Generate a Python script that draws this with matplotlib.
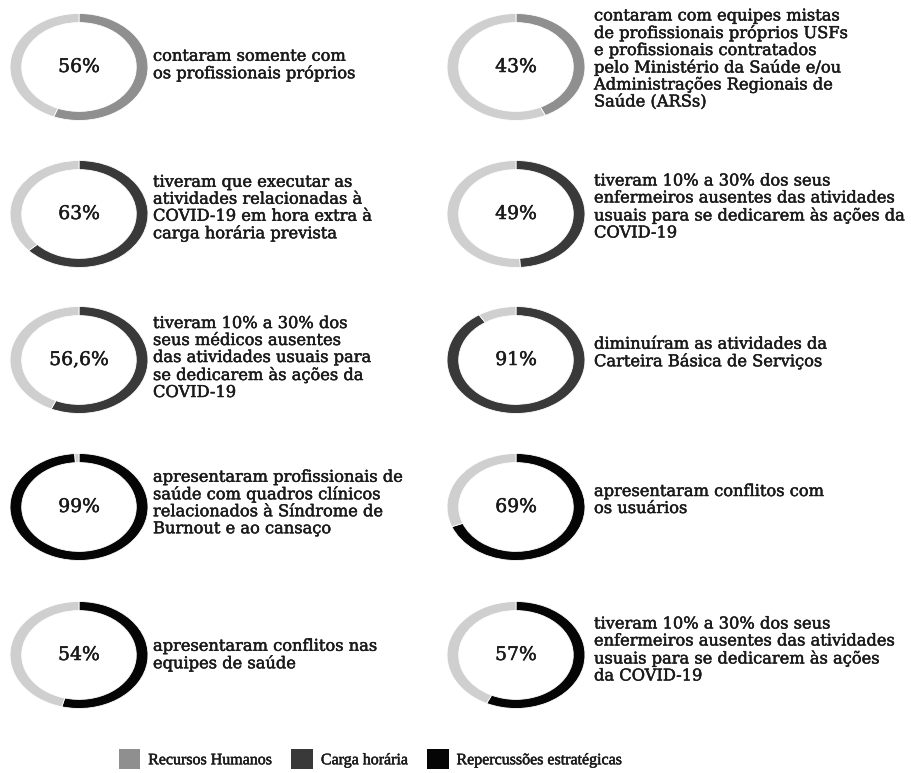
import matplotlib.pyplot as plt
import matplotlib.patheffects as pe
from matplotlib.patches import Patch

# data
percent = [56, 43, 63, 49, 56.6, 91, 99, 69, 54, 57]
percent_labels = ['56%', '43%', '63%', '49%', '56,6%', '91%', '99%', '69%', '54%', '57%']
groups = ['Recursos Humanos', 'Recursos Humanos',
          'Carga horária', 'Carga horária',
          'Carga horária', 'Carga horária',
          'Repercussões estratégicas', 'Repercussões estratégicas',
          'Repercussões estratégicas', 'Repercussões estratégicas']
descriptions = [
    'contaram somente com\nos profissionais próprios',
    'contaram com equipes mistas\nde profissionais próprios USFs\ne profissionais contratados\n'
    'pelo Ministério da Saúde e/ou\nAdministrações Regionais de\nSaúde (ARSs)',
    'tiveram que executar as\natividades relacionadas à\nCOVID-19 em hora extra à\ncarga horária prevista',
    'tiveram 10% a 30% dos seus\nenfermeiros ausentes das atividades\nusuais para se dedicarem às ações da\nCOVID-19',
    'tiveram 10% a 30% dos\nseus médicos ausentes\ndas atividades usuais para\nse dedicarem às ações da\nCOVID-19',
    'diminuíram as atividades da\nCarteira Básica de Serviços',
    'apresentaram profissionais de\nsaúde com quadros clínicos\nrelacionados à Síndrome de\nBurnout e ao cansaço',
    'apresentaram conflitos com\nos usuários',
    'apresentaram conflitos nas\nequipes de saúde',
    'tiveram 10% a 30% dos seus\nenfermeiros ausentes das atividades\nusuais para se dedicarem às ações\nda COVID-19',
]
legend_order = ['Recursos Humanos', 'Carga horária', 'Repercussões estratégicas']

# layout (pixels, origin top-left)
W, H = 911, 773
col_x = [79, 516]
text_x = [153, 594]
row_y = [67, 214, 360, 507, 655]
text_dy = [[-2, -8], [-6, -7], [-2, -7], [-4, -7], [0, -5]]
rx, ry = 69, 53.5

colors = {'Recursos Humanos': '#8f8f8f',
          'Carga horária': '#393939',
          'Repercussões estratégicas': '#050505'}
rest_color = '#cfcfcf'
text_color = '#1a1a1a'
bold_fx = [pe.withStroke(linewidth=0.35, foreground=text_color)]


def fx(x):
    return x / W


def fy(y):
    return 1 - y / H


fig = plt.figure(figsize=(9.11, 7.73), dpi=100)
fig.patch.set_facecolor('white')

for i, p in enumerate(percent):
    r, c = i // 2, i % 2
    cx, cy = col_x[c], row_y[r]
    ax = fig.add_axes([fx(cx - rx), fy(cy + ry), 2 * rx / W, 2 * ry / H])
    ax.pie([p, 100 - p], colors=[colors[groups[i]], rest_color],
           startangle=90, counterclock=False, radius=1,
           wedgeprops=dict(width=0.17, edgecolor='white', linewidth=0.6))
    ax.set_aspect('auto')
    ax.set_xlim(-1.0, 1.0)
    ax.set_ylim(-1.0, 1.0)
    ax.axis('off')
    ax.text(0, 0, percent_labels[i], ha='center', va='center',
            fontsize=13.5, family='DejaVu Serif', color=text_color,
            path_effects=bold_fx)
    fig.text(fx(text_x[c]), fy(cy + text_dy[r][c]), descriptions[i],
             ha='left', va='center', fontsize=11.7, family='DejaVu Serif',
             color=text_color, linespacing=1.0, path_effects=bold_fx)

handles = [Patch(facecolor=colors[g], edgecolor='none') for g in legend_order]
leg = fig.legend(handles, legend_order, loc='center', ncol=3,
                 bbox_to_anchor=(fx(370), fy(759)), frameon=False,
                 handlelength=1.35, handleheight=1.5, handletextpad=0.5,
                 columnspacing=1.2,
                 prop={'family': 'Liberation Serif', 'size': 11.5})
for t in leg.get_texts():
    t.set_color(text_color)
    t.set_path_effects(bold_fx)

plt.savefig('out.png', dpi=100)
